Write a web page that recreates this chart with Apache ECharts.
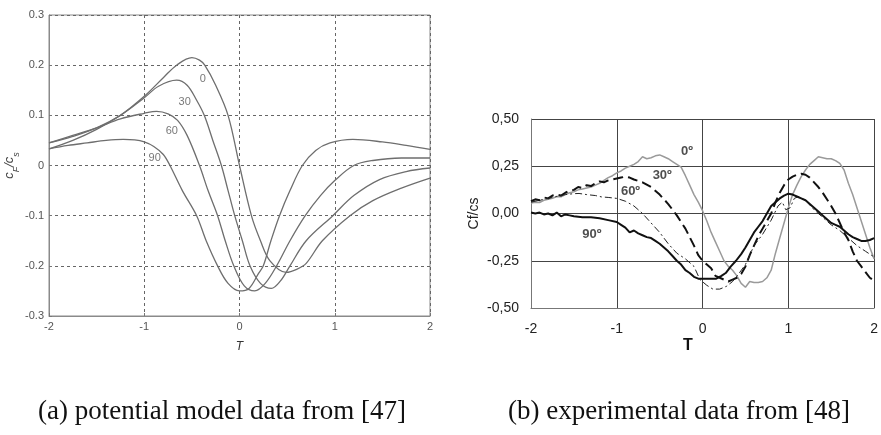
<!DOCTYPE html>
<html>
<head>
<meta charset="utf-8">
<script src="https://cdn.jsdelivr.net/npm/echarts@6/dist/echarts.min.js"></script>
<style>html,body{margin:0;padding:0;background:#fff}#c{width:881px;height:435px}</style>
</head>
<body>
<div id="c"></div>
<script>
// ---- Panel (a): potential model ----
const xTicksA = [-2, -1, 0, 1, 2];
const yTicksA = [-0.3, -0.2, -0.1, 0, 0.1, 0.2, 0.3];
const pot0 = [[-2,0.033],[-1.75,0.05],[-1.5,0.072],[-1.25,0.1],[-1.0,0.138],[-0.8,0.175],[-0.66,0.2],[-0.5,0.215],[-0.42,0.21],[-0.365,0.2],[-0.25,0.16],[-0.12,0.1],[0,0.0],[0.125,-0.1],[0.22,-0.15],[0.32,-0.19],[0.49,-0.213],[0.6,-0.207],[0.7,-0.195],[0.87,-0.15],[1.16,-0.1],[1.4,-0.07],[1.7,-0.045],[2,-0.025]];
const pot30 = [[-2,0.045],[-1.75,0.058],[-1.5,0.075],[-1.25,0.1],[-1.0,0.135],[-0.85,0.158],[-0.66,0.17],[-0.55,0.16],[-0.45,0.13],[-0.37,0.1],[-0.28,0.05],[-0.19,0.0],[-0.12,-0.05],[-0.05,-0.1],[0.03,-0.15],[0.11,-0.2],[0.22,-0.235],[0.335,-0.245],[0.43,-0.23],[0.53,-0.2],[0.7,-0.15],[0.98,-0.1],[1.2,-0.06],[1.47,-0.028],[1.75,-0.012],[2,-0.005]];
const pot60 = [[-2,0.045],[-1.75,0.06],[-1.5,0.075],[-1.25,0.093],[-1.0,0.104],[-0.87,0.108],[-0.75,0.103],[-0.65,0.09],[-0.55,0.06],[-0.42,0.0],[-0.33,-0.05],[-0.23,-0.1],[-0.15,-0.15],[-0.06,-0.2],[0.05,-0.24],[0.16,-0.25],[0.27,-0.235],[0.39,-0.2],[0.53,-0.15],[0.69,-0.1],[0.85,-0.06],[1.0,-0.03],[1.2,0.0],[1.4,0.01],[1.7,0.015],[2,0.015]];
const pot90 = [[-2,0.033],[-1.8,0.04],[-1.6,0.045],[-1.4,0.05],[-1.22,0.052],[-1.1,0.051],[-1.0,0.047],[-0.9,0.038],[-0.8,0.022],[-0.73,0.0],[-0.6,-0.05],[-0.45,-0.1],[-0.35,-0.15],[-0.23,-0.2],[-0.12,-0.235],[0,-0.25],[0.1,-0.245],[0.2,-0.215],[0.25,-0.2],[0.33,-0.15],[0.42,-0.1],[0.53,-0.05],[0.66,0.0],[0.8,0.03],[0.95,0.045],[1.19,0.052],[1.5,0.047],[1.75,0.04],[2,0.032]];
const labelsA = [['0',-0.386,0.173],['30',-0.575,0.127],['60',-0.71,0.069],['90',-0.89,0.015]];

// ---- Panel (b): experimental ----
const xTicksB = [-2, -1, 0, 1, 2];
const yTicksB = [-0.5, -0.25, 0, 0.25, 0.5];
const exp0 = [[-2,0.055],[-1.95,0.06],[-1.9,0.058],[-1.85,0.07],[-1.8,0.075],[-1.75,0.08],[-1.7,0.09],[-1.65,0.088],[-1.6,0.1],[-1.55,0.11],[-1.5,0.115],[-1.45,0.125],[-1.4,0.13],[-1.35,0.135],[-1.3,0.14],[-1.25,0.15],[-1.2,0.16],[-1.15,0.175],[-1.1,0.19],[-1.05,0.2],[-1.0,0.215],[-0.95,0.225],[-0.9,0.24],[-0.85,0.25],[-0.8,0.26],[-0.75,0.275],[-0.7,0.3],[-0.65,0.29],[-0.6,0.295],[-0.55,0.305],[-0.5,0.31],[-0.45,0.3],[-0.4,0.29],[-0.35,0.275],[-0.3,0.26],[-0.25,0.245],[-0.2,0.2],[-0.15,0.15],[-0.1,0.1],[-0.05,0.06],[0,0.015],[0.05,-0.04],[0.1,-0.1],[0.15,-0.15],[0.2,-0.2],[0.25,-0.25],[0.3,-0.28],[0.35,-0.3],[0.4,-0.33],[0.45,-0.37],[0.5,-0.39],[0.55,-0.36],[0.6,-0.365],[0.65,-0.365],[0.7,-0.36],[0.75,-0.34],[0.8,-0.3],[0.85,-0.21],[0.9,-0.13],[0.95,-0.05],[1.0,0.03],[1.05,0.1],[1.1,0.15],[1.15,0.195],[1.2,0.23],[1.25,0.26],[1.3,0.28],[1.35,0.3],[1.4,0.295],[1.45,0.29],[1.5,0.29],[1.55,0.28],[1.6,0.265],[1.65,0.23],[1.7,0.16],[1.75,0.1],[1.8,0.03],[1.85,-0.04],[1.9,-0.11],[1.95,-0.18],[2.0,-0.24]];
const exp30 = [[-2,0.065],[-1.95,0.075],[-1.9,0.07],[-1.85,0.085],[-1.8,0.08],[-1.75,0.095],[-1.7,0.1],[-1.65,0.095],[-1.6,0.11],[-1.55,0.12],[-1.5,0.125],[-1.45,0.14],[-1.4,0.135],[-1.35,0.15],[-1.3,0.145],[-1.25,0.16],[-1.2,0.17],[-1.15,0.165],[-1.1,0.175],[-1.05,0.18],[-1.0,0.185],[-0.95,0.19],[-0.9,0.195],[-0.85,0.19],[-0.8,0.18],[-0.7,0.165],[-0.6,0.14],[-0.5,0.1],[-0.4,0.05],[-0.3,-0.01],[-0.2,-0.08],[-0.1,-0.17],[-0.05,-0.22],[0,-0.25],[0.05,-0.27],[0.1,-0.29],[0.15,-0.33],[0.2,-0.34],[0.25,-0.35],[0.3,-0.36],[0.35,-0.35],[0.4,-0.34],[0.45,-0.32],[0.5,-0.28],[0.55,-0.22],[0.6,-0.17],[0.65,-0.12],[0.7,-0.08],[0.75,-0.04],[0.8,0.0],[0.85,0.06],[0.9,0.11],[0.95,0.15],[1.0,0.18],[1.05,0.195],[1.1,0.205],[1.15,0.21],[1.2,0.205],[1.25,0.19],[1.3,0.165],[1.35,0.14],[1.4,0.11],[1.45,0.075],[1.5,0.04],[1.55,0.0],[1.6,-0.05],[1.65,-0.1],[1.7,-0.14],[1.75,-0.2],[1.8,-0.25],[1.85,-0.28],[1.9,-0.31],[1.95,-0.34],[2.0,-0.355]];
const exp60 = [[-2,0.06],[-1.9,0.07],[-1.8,0.08],[-1.7,0.09],[-1.6,0.1],[-1.5,0.105],[-1.44,0.106],[-1.35,0.1],[-1.25,0.095],[-1.18,0.088],[-1.1,0.085],[-1.0,0.08],[-0.9,0.065],[-0.8,0.04],[-0.7,0.0],[-0.6,-0.05],[-0.5,-0.1],[-0.4,-0.16],[-0.3,-0.21],[-0.2,-0.24],[-0.1,-0.28],[-0.03,-0.35],[0.05,-0.38],[0.12,-0.4],[0.2,-0.4],[0.28,-0.385],[0.35,-0.36],[0.42,-0.32],[0.5,-0.27],[0.6,-0.17],[0.7,-0.11],[0.8,-0.035],[0.88,0.04],[0.93,0.06],[0.97,0.02],[1.02,0.03],[1.07,0.08],[1.12,0.09],[1.2,0.07],[1.3,0.02],[1.4,-0.02],[1.5,-0.06],[1.6,-0.09],[1.7,-0.13],[1.8,-0.17],[1.9,-0.2],[2.0,-0.23]];
const exp90 = [[-2,0.005],[-1.95,0.0],[-1.9,0.005],[-1.85,-0.005],[-1.8,0.0],[-1.75,-0.01],[-1.7,0.005],[-1.65,-0.015],[-1.6,-0.005],[-1.55,-0.01],[-1.5,-0.015],[-1.4,-0.02],[-1.3,-0.02],[-1.2,-0.025],[-1.1,-0.035],[-1.0,-0.045],[-0.95,-0.06],[-0.9,-0.075],[-0.85,-0.1],[-0.8,-0.09],[-0.75,-0.105],[-0.7,-0.115],[-0.65,-0.125],[-0.6,-0.13],[-0.55,-0.145],[-0.5,-0.16],[-0.45,-0.18],[-0.4,-0.2],[-0.35,-0.225],[-0.3,-0.25],[-0.25,-0.27],[-0.2,-0.3],[-0.15,-0.315],[-0.1,-0.335],[-0.05,-0.345],[0,-0.345],[0.1,-0.345],[0.16,-0.345],[0.22,-0.33],[0.27,-0.315],[0.33,-0.28],[0.39,-0.25],[0.45,-0.215],[0.5,-0.18],[0.55,-0.14],[0.6,-0.1],[0.65,-0.07],[0.7,-0.04],[0.75,0.0],[0.8,0.04],[0.85,0.06],[0.9,0.08],[0.95,0.095],[1.0,0.105],[1.05,0.1],[1.1,0.09],[1.15,0.08],[1.2,0.07],[1.25,0.05],[1.3,0.03],[1.35,0.01],[1.4,-0.01],[1.45,-0.03],[1.5,-0.05],[1.55,-0.06],[1.6,-0.07],[1.65,-0.09],[1.7,-0.11],[1.75,-0.125],[1.8,-0.135],[1.85,-0.145],[1.9,-0.145],[1.95,-0.14],[2.0,-0.13]];
const labelsB = [['0º',-0.18,0.328],['30º',-0.47,0.204],['60º',-0.84,0.115],['90º',-1.29,-0.11]];

const chart = echarts.init(document.getElementById('c'), null, {renderer:'canvas'});

function potSeries(data) {
  return {
    type:'line', xAxisIndex:0, yAxisIndex:0, data:data, smooth:0.35, showSymbol:false,
    lineStyle:{color:'#6e6e6e', width:1.3}, silent:true, z:3
  };
}
const seriesA = [pot0, pot30, pot60, pot90].map(d => potSeries(d));
seriesA.push({
  type:'scatter', xAxisIndex:0, yAxisIndex:0, symbolSize:0, silent:true,
  data: labelsA.map(l => ({value:[l[1], l[2]], name:l[0]})),
  label:{show:true, position:'inside', formatter: p => p.name, color:'#555', fontSize:11, fontFamily:'Liberation Sans, Arial'}
});
const styleB = [
  {d:exp0, c:'#9a9a9a', w:1.5, t:'solid'},
  {d:exp30, c:'#111', w:2, t:[10,5]},
  {d:exp60, c:'#222', w:1, t:[7,3,2,3]},
  {d:exp90, c:'#111', w:2, t:'solid'}
];
const seriesB = styleB.map(s => ({
  type:'line', xAxisIndex:1, yAxisIndex:1, data:s.d, showSymbol:false, silent:true,
  lineStyle:{color:s.c, width:s.w, type:s.t}, z:3
}));
seriesB.push({
  type:'scatter', xAxisIndex:1, yAxisIndex:1, symbolSize:0, silent:true,
  data: labelsB.map(l => ({value:[l[1], l[2]], name:l[0]})),
  label:{show:true, position:'inside', formatter: p => p.name, color:'#222', fontSize:13, fontWeight:'bold', fontFamily:'Liberation Sans, Arial'}
});

chart.setOption({
  animation:false,
  backgroundColor:'#fff',
  grid:[
    {left:49, top:15, width:381, height:301, show:true, borderColor:'#8a8a8a', borderWidth:1},
    {left:531, top:119, width:350, height:189}
  ],
  xAxis:[
    {gridIndex:0, type:'value', min:xTicksA[0], max:xTicksA[xTicksA.length-1], interval:1,
     axisLine:{onZero:false, lineStyle:{color:'#8a8a8a'}}, axisTick:{inside:true, length:3, lineStyle:{color:'#777'}},
     axisLabel:{color:'#555', fontSize:11, margin:5, fontFamily:'Liberation Sans, Arial'},
     splitLine:{show:true, lineStyle:{color:'#666', type:[3,3], width:1}},
     name:'T', nameLocation:'middle', nameGap:25,
     nameTextStyle:{color:'#333', fontSize:12, fontStyle:'italic', fontFamily:'Liberation Sans, Arial'}},
    {gridIndex:1, type:'value', min:xTicksB[0], max:xTicksB[xTicksB.length-1], interval:1,
     axisLine:{onZero:false, lineStyle:{color:'#777'}}, axisTick:{show:false},
     axisLabel:{color:'#222', fontSize:14, margin:14, fontFamily:'Liberation Sans, Arial'},
     splitLine:{show:true, lineStyle:{color:'#444', width:1}}}
  ],
  yAxis:[
    {gridIndex:0, type:'value', min:yTicksA[0], max:yTicksA[yTicksA.length-1], interval:0.1,
     axisLine:{show:true, onZero:false, lineStyle:{color:'#8a8a8a'}}, axisTick:{inside:true, length:3, lineStyle:{color:'#777'}},
     axisLabel:{color:'#555', fontSize:11, margin:5, fontFamily:'Liberation Sans, Arial',
       formatter: v => String(Math.round(v*10)/10)},
     splitLine:{show:true, lineStyle:{color:'#666', type:[3,3], width:1}},
     name:'{i|c}{s|F}{i|/c}{s|s}', nameLocation:'middle', nameGap:27, nameRotate:90,
     nameTextStyle:{color:'#444', fontFamily:'Liberation Sans, Arial',
       rich:{i:{fontSize:13, fontStyle:'italic', color:'#444', lineHeight:18, verticalAlign:'top'},
             s:{fontSize:9, fontStyle:'italic', color:'#444', lineHeight:18, verticalAlign:'bottom'}}}},
    {gridIndex:1, type:'value', min:yTicksB[0], max:yTicksB[yTicksB.length-1], interval:0.25,
     axisLine:{show:true, onZero:false, lineStyle:{color:'#777'}}, axisTick:{show:false},
     axisLabel:{color:'#222', fontSize:14, margin:12, fontFamily:'Liberation Sans, Arial',
       formatter: v => v.toFixed(2).replace('.', ',')},
     splitLine:{show:true, lineStyle:{color:'#444', width:1}},
     name:'Cf/cs', nameLocation:'middle', nameGap:50, nameRotate:90,
     nameTextStyle:{color:'#222', fontSize:14, fontFamily:'Liberation Sans, Arial'}}
  ],
  graphic:[
    {type:'text', x:688, y:346, style:{text:'T', font:'bold 16px "Liberation Sans", Arial', fill:'#111', textAlign:'center', textVerticalAlign:'middle'}},
    {type:'text', x:222, y:412, style:{text:'(a) potential model data from [47]', font:'27px "Liberation Serif", serif', fill:'#111', textAlign:'center', textVerticalAlign:'middle'}},
    {type:'text', x:679, y:412, style:{text:'(b) experimental data from [48]', font:'27px "Liberation Serif", serif', fill:'#111', textAlign:'center', textVerticalAlign:'middle'}}
  ],
  series: seriesA.concat(seriesB)
});
</script>
</body>
</html>
